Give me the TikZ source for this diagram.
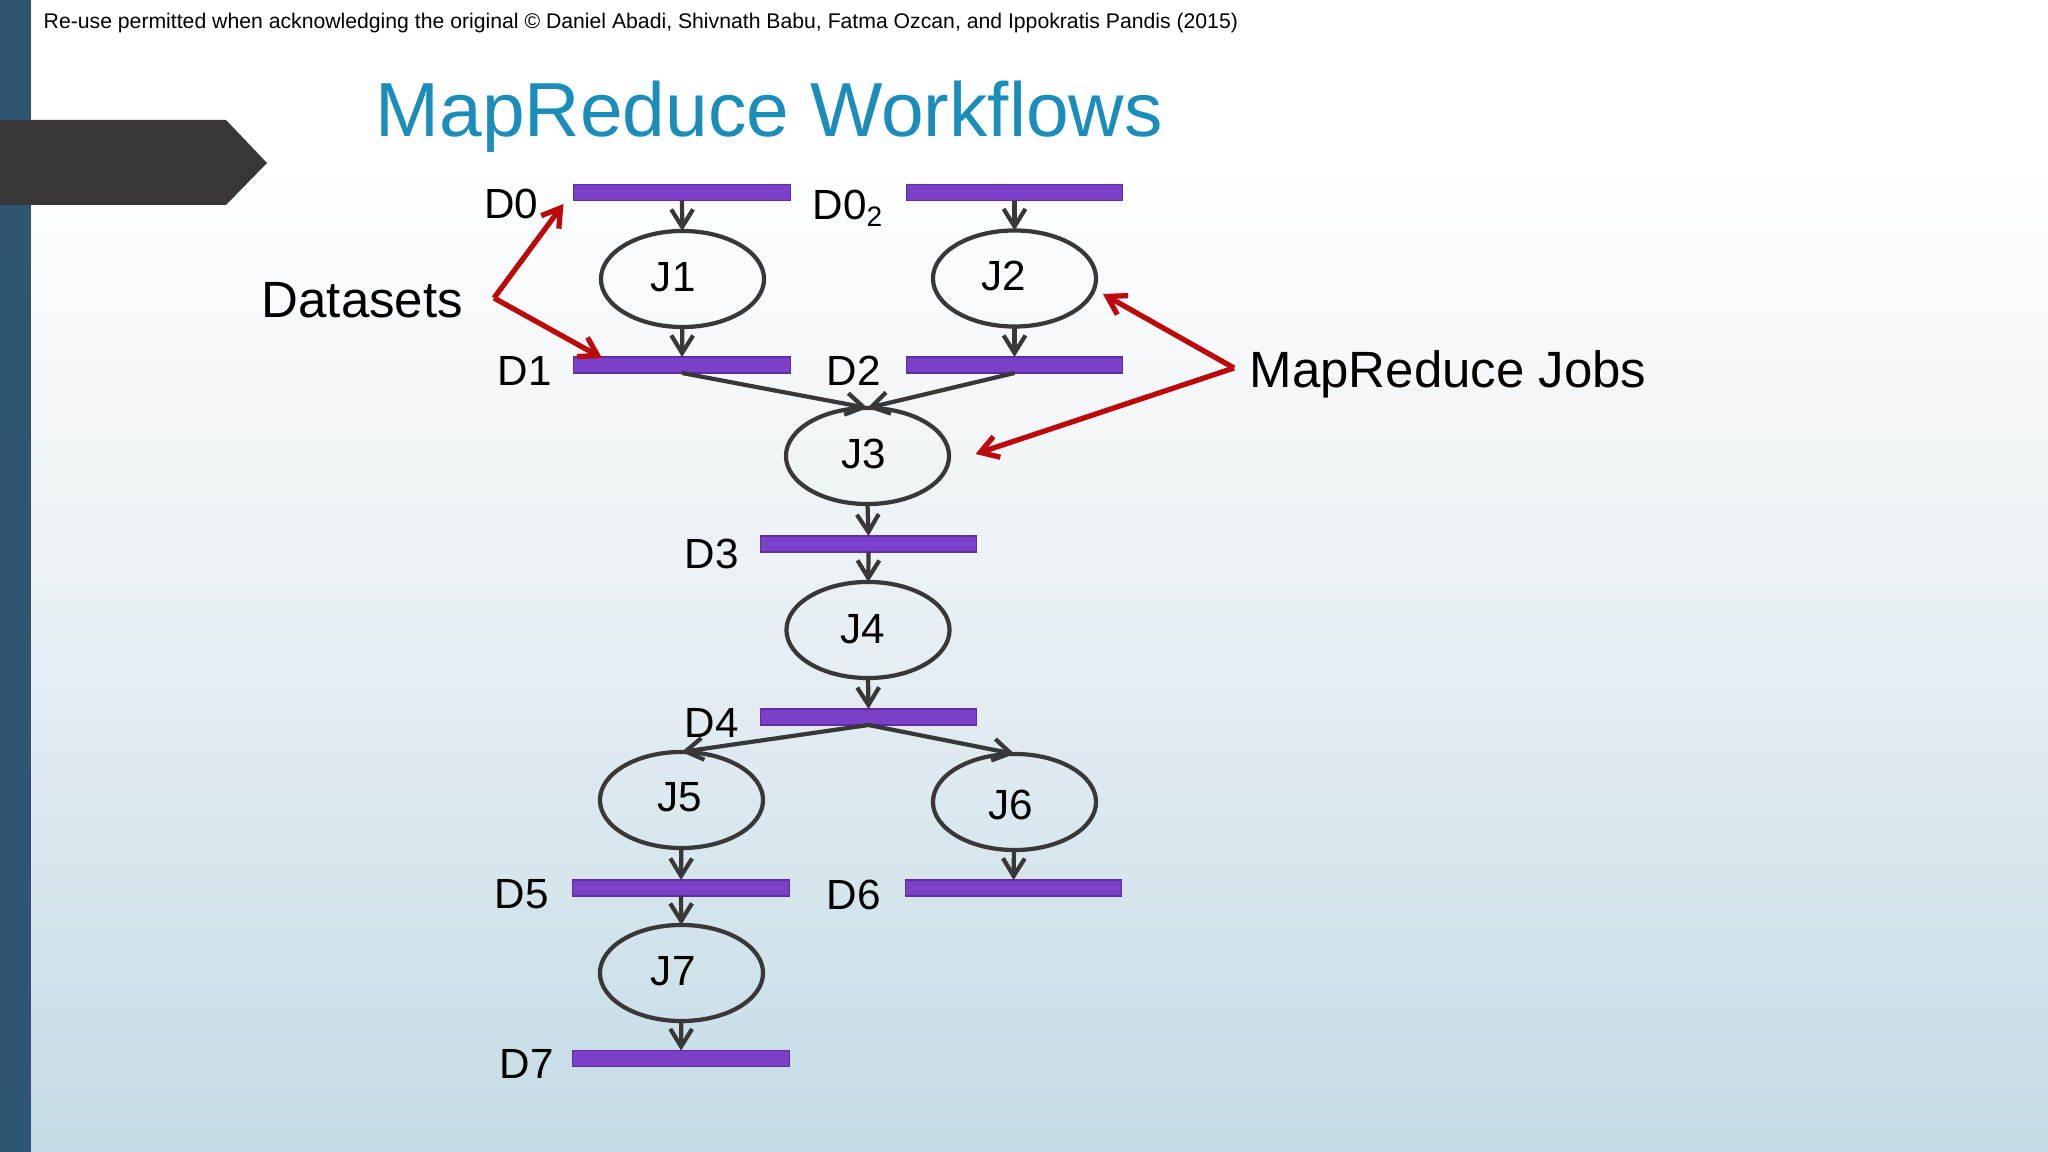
\documentclass[tikz,border=0pt]{standalone}
\usepackage{fontspec}
\setmainfont{Liberation Sans}
\usetikzlibrary{arrows.meta,shapes.geometric}
\newcommand{\jobtext}[3]{\kern#1\raisebox{#2}[0pt][0pt]{#3}}
\definecolor{bartop}{HTML}{2E5672}
\definecolor{tagdark}{HTML}{383637}
\definecolor{skymid}{HTML}{EBF1F5}
\definecolor{skylow}{HTML}{C4DBE5}
\definecolor{barfill}{HTML}{7B3FC8}
\definecolor{barline}{HTML}{5E2DA6}
\definecolor{slateline}{HTML}{383838}
\definecolor{callred}{HTML}{BC0A0A}
\definecolor{titleblue}{HTML}{1B8DBB}
\pgfdeclareverticalshading{slidesky}{100bp}{color(0bp)=(skylow); color(25bp)=(skylow); color(50bp)=(skymid); color(68bp)=(white); color(100bp)=(white)}
\begin{document}
\begin{tikzpicture}[%
		x=0.01cm,
		y=-0.01cm,
		>={Straight Barb[length=5pt,width=6.2pt]},
		flow/.style={%
			every edge/.style={%
				draw=slateline,
				line width=1.2pt,
				->
			}
		},
		callout/.style={%
			every edge/.style={%
				draw=callred,
				line width=1.5pt,
				->
			}
		},
		dataset/.style={%
			rectangle,
			minimum width=2.16cm,
			minimum height=0.16cm,
			inner sep=0pt,
			outer sep=0pt,
			draw=barline,
			line width=0.3pt,
			fill=barfill
		},
		job/.style={%
			ellipse,
			minimum width=1.63cm,
			minimum height=0.96cm,
			inner sep=0pt,
			outer sep=0pt,
			draw=slateline,
			line width=1.2pt,
			font=\fontsize{12}{14}\selectfont
		},
		dlabel/.style={%
			anchor=base west,
			inner sep=0pt,
			font=\fontsize{12}{14}\selectfont
		},
		note/.style={%
			anchor=base west,
			inner sep=0pt,
			font=\fontsize{14.5}{17}\selectfont
		}
		]
		\useasboundingbox (0,0) rectangle (2048,1152);
		
		% slide background
		\shade[shading=slidesky] (0,0) rectangle (2048,1152);
		\fill[bartop] (0,0) rectangle (31,1152);
		\fill[tagdark] (0,120) -- (226,120) -- (267,163) -- (226,205) -- (0,205) -- cycle;
		
		\node[anchor=base west,inner sep=0pt,font=\fontsize{6.03}{7}\selectfont] (credit) at (43,29) {Re-use permitted when acknowledging the original © Daniel Abadi, Shivnath Babu, Fatma Ozcan, and Ippokratis Pandis (2015)};
		\node[anchor=base west,inner sep=0pt,text=titleblue,font=\fontsize{21.8}{26}\selectfont] (title) at (375,137) {MapReduce Workflows};
		
		% datasets
		\node[dataset] (D0)  at (682,192.5)    {};
		\node[dataset] (D02) at (1014.5,192.5) {};
		\node[dataset] (D1)  at (682,365)      {};
		\node[dataset] (D2)  at (1014.5,365)   {};
		\node[dataset] (D3)  at (868.5,544)    {};
		\node[dataset] (D4)  at (868.5,717)    {};
		\node[dataset] (D5)  at (681,888)      {};
		\node[dataset] (D6)  at (1013.5,888)   {};
		\node[dataset] (D7)  at (681,1058.5)   {};
		
		% jobs
		\node[job] (J1) at (682.5,279)  {\jobtext{-5.3pt}{-3.5pt}{J1}};
		\node[job] (J2) at (1014.5,278.5) {\jobtext{-6pt}{-3.5pt}{J2}};
		\node[job] (J3) at (867.5,456)  {\jobtext{-2pt}{-3.5pt}{J3}};
		\node[job] (J4) at (868,630)    {\jobtext{-3pt}{-3.7pt}{J4}};
		\node[job] (J5) at (681.5,800)  {\jobtext{-1pt}{-3.4pt}{J5}};
		\node[job] (J6) at (1014.5,802) {\jobtext{-2pt}{-5pt}{J6}};
		\node[job] (J7) at (681.5,973)  {\jobtext{-4.7pt}{-3.5pt}{J7}};
		
		% dataset names
		\node[dlabel] (nameD0)  at (483.5,219) {D0};
		\node[dlabel] (nameD02) at (812,220)   {D0\textsubscript{2}};
		\node[dlabel] (nameD1)  at (497,385.5) {D1};
		\node[dlabel] (nameD2)  at (826,385.5) {D2};
		\node[dlabel] (nameD3)  at (684,568.5) {D3};
		\node[dlabel] (nameD4)  at (684,737)   {D4};
		\node[dlabel] (nameD5)  at (494,908)   {D5};
		\node[dlabel] (nameD6)  at (826,909)   {D6};
		\node[dlabel] (nameD7)  at (499,1078)  {D7};
		
		\path[flow] (D0)  edge (J1)
		(D02) edge (J2)
		(J1)  edge (D1)
		(J2)  edge (D2)
		(J3.south) edge (D3.north)
		(D3)  edge (J4)
		(J4.south) edge (D4.north)
		(J5)  edge (D5)
		(J6)  edge (D6)
		(D5)  edge (J7)
		(J7)  edge (D7)
		(D1.south) edge (J3.north)
		(D2.south) edge (J3.north)
		(D4.south) edge (J5.north)
		(D4.south) edge (J6.north);
		
		% callouts
		\node[note] (datasets) at (261,318) {Datasets};
		\node[note] (jobs)     at (1249,388) {MapReduce Jobs};
		
		\coordinate (datasetfork) at (494,298);
		\coordinate (jobfork)     at (1234,368);
		\coordinate (hitD0) at (563.5,204);
		\coordinate (hitD1) at (602,358);
		\coordinate (hitJ2) at (1103,294);
		\coordinate (hitJ3) at (975.5,454);
		
		\path[callout] (datasetfork) edge (hitD0)
		(datasetfork) edge (hitD1)
		(jobfork) edge (hitJ2)
		(jobfork) edge (hitJ3);
		\end{tikzpicture}
\end{document}
